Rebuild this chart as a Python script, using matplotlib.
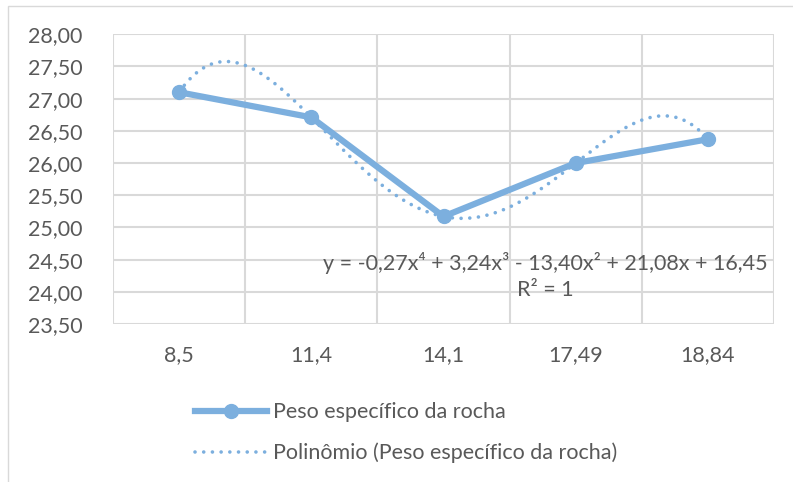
#!/usr/bin/env python3

import matplotlib
matplotlib.use("Agg")
import matplotlib.pyplot as plt
import numpy as np
from matplotlib.lines import Line2D
from matplotlib.patches import Rectangle
from matplotlib.ticker import FuncFormatter, MultipleLocator

plt.rcParams["font.family"] = ["Lato", "DejaVu Sans"]

categories = ["8,5", "11,4", "14,1", "17,49", "18,84"]
peso_especifico = [27.10, 26.71, 25.17, 26.00, 26.37]

SERIES_LABEL = "Peso específico da rocha"
TREND_LABEL = "Polinômio (Peso específico da rocha)"
EQUATION = "y = -0,27x⁴ + 3,24x³ - 13,40x² + 21,08x + 16,45\nR² = 1"

LINE_COLOR = "#7cafde"
GRID_COLOR = "#d9d9d9"
TEXT_COLOR = "#595959"
FS = 15.5

W, H = 793, 482
fig = plt.figure(figsize=(W / 100, H / 100), dpi=100)

# chart frame
fig.patches.append(Rectangle((8 / W, -0.1), 1.2, 1 - 6 / H + 0.1, transform=fig.transFigure,
                             fill=False, edgecolor=GRID_COLOR, linewidth=1.0))

ax = fig.add_axes([113 / W, 1 - 324 / H, 661 / W, (324 - 34.3) / H])

x = np.arange(1, len(categories) + 1)
ax.plot(x, peso_especifico, color=LINE_COLOR, linewidth=4.5, marker="o", markersize=10,
        solid_capstyle="round", zorder=3)

# 4th-order polynomial trendline
coef = np.polyfit(x, peso_especifico, 4)
xs = np.linspace(x[0], x[-1], 300)
ax.plot(xs, np.polyval(coef, xs), color=LINE_COLOR, linewidth=2.6,
        linestyle=(0, (0.01, 2.4)), dash_capstyle="round", zorder=4)

ax.set_xlim(0.5, len(categories) + 0.5)
ax.set_ylim(23.5, 28.0)
ax.yaxis.set_major_locator(MultipleLocator(0.5))
ax.yaxis.set_major_formatter(FuncFormatter(lambda v, _: f"{v:.2f}".replace(".", ",")))
ax.set_xticks(x)
ax.set_xticklabels(categories)
ax.set_xticks(np.arange(0.5, len(categories) + 1), minor=True)

ax.grid(axis="y", which="major", color=GRID_COLOR, linewidth=1.5)
ax.grid(axis="x", which="minor", color=GRID_COLOR, linewidth=1.5)
ax.set_axisbelow(True)
for s in ax.spines.values():
    s.set_visible(False)
ax.tick_params(which="both", length=0, colors=TEXT_COLOR, labelsize=FS)
ax.tick_params(axis="x", pad=15)
ax.tick_params(axis="y", pad=22)

ax.text(545 / W, 1 - 276 / H, EQUATION, transform=fig.transFigure, ha="center", va="center",
        multialignment="center", fontsize=FS, color=TEXT_COLOR, linespacing=1.35)

handles = [
    Line2D([], [], color=LINE_COLOR, linewidth=4.5, marker="o", markersize=10),
    Line2D([], [], color=LINE_COLOR, linewidth=2.6, linestyle=(0, (0.01, 2.4)),
           dash_capstyle="round"),
]
fig.legend(handles, [SERIES_LABEL, TREND_LABEL], loc="upper left",
           bbox_to_anchor=(176 / W, 1 - 383 / H), frameon=False, fontsize=FS,
           handlelength=3.35, handletextpad=0.25, labelspacing=0.95, labelcolor=TEXT_COLOR)

fig.savefig("out.png", dpi=100)
